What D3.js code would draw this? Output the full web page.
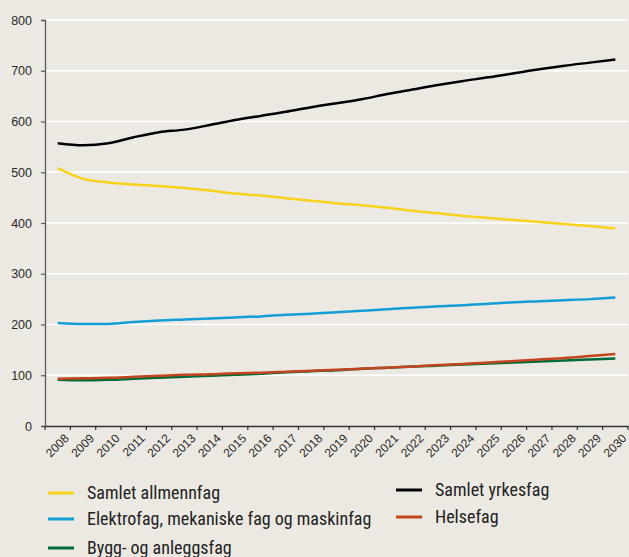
<!DOCTYPE html>
<html><head><meta charset="utf-8">
<script src="https://cdn.jsdelivr.net/npm/d3@7"></script>
<style>
html,body{margin:0;padding:0;background:#ECE9E2;}
svg{display:block;}
</style></head>
<body>
<svg id="c" width="629" height="557"></svg>
<script>
const years = ["2008","2009","2010","2011","2012","2013","2014","2015","2016","2017","2018","2019","2020","2021","2022","2023","2024","2025","2026","2027","2028","2029","2030"];
const yTicks = [0,100,200,300,400,500,600,700,800];
const samletYrkesfag = [557,553,557,569,579,584,593,603,611,619,628,636,644,654,663,672,680,687,695,703,710,716,722];
const samletAllmennfag = [508,487,480,476,473,469,464,458,454,449,444,439,435,430,424,419,414,410,406,402,398,394,389];
const elektrofag = [203,201,201,205,208,210,212,214,216,219,221,224,227,230,233,236,238,241,244,246,248,250,253];
const byggfag = [91,90,91,93,95,97,99,101,103,106,108,110,113,115,117,119,121,123,125,127,129,131,133];
const helsefag = [93,94,95,97,99,101,102,104,105,107,109,111,113,115,117,120,122,125,128,131,134,138,142];

const seriesNames = ["Samlet allmennfag","Samlet yrkesfag","Elektrofag, mekaniske fag og maskinfag","Helsefag","Bygg- og anleggsfag"];
const seriesColors = ["#F8D21C","#000000","#129FD6","#C2451F","#006B3A"];
const seriesData = [samletAllmennfag, samletYrkesfag, elektrofag, helsefag, byggfag];

(function(){
const svg = d3.select("#c");
const mLeft = 45, mRight = 628, mTop = 20, mBottom = 426;
const x = d3.scaleBand().domain(years).range([mLeft, mRight]).padding(0);
const y = d3.scaleLinear().domain([0, 800]).range([mBottom, mTop]);
const narrow = "'Liberation Sans Narrow','Roboto Condensed','Liberation Sans',sans-serif";
const tickFont = "'Liberation Sans',Arial,sans-serif";

// gridlines
svg.append("g").selectAll("line").data(yTicks.filter(d => d > 0)).join("line")
  .attr("x1", mLeft).attr("x2", mRight)
  .attr("y1", d => y(d)).attr("y2", d => y(d))
  .attr("stroke", "#ffffff").attr("stroke-width", 1.6);

// y axis
const yAxis = svg.append("g").attr("transform", `translate(${mLeft},0)`)
  .call(d3.axisLeft(y).tickValues(yTicks).tickSize(4).tickPadding(9));
yAxis.select(".domain").attr("stroke", "#5b5b5b").attr("stroke-width", 1.3);
yAxis.selectAll(".tick line").attr("stroke", "#5b5b5b").attr("stroke-width", 1.2);
yAxis.selectAll("text").attr("font-family", tickFont).attr("font-size", 12.5).attr("fill", "#2a2a2a");

// x axis
const xAxis = svg.append("g").attr("transform", `translate(0,${mBottom})`)
  .call(d3.axisBottom(x).tickSize(0).tickFormat(""));
xAxis.select(".domain").attr("stroke", "#333").attr("stroke-width", 1.5);
const bounds = years.map(d => x(d)).concat([x(years[years.length-1]) + x.bandwidth()]);
svg.append("g").selectAll("line").data(bounds).join("line")
  .attr("x1", d => d).attr("x2", d => d)
  .attr("y1", mBottom).attr("y2", mBottom + 4)
  .attr("stroke", "#333").attr("stroke-width", 1.2);
svg.append("g").selectAll("text").data(years).join("text")
  .attr("transform", d => `translate(${x(d) + x.bandwidth()/2 + 12},${mBottom + 13}) rotate(-45)`)
  .attr("text-anchor", "end")
  .attr("font-family", tickFont).attr("font-size", 12).attr("fill", "#2a2a2a")
  .text(d => d);

// lines
const line = d3.line().x((d, i) => x(years[i]) + x.bandwidth()/2).y(d => y(d)).curve(d3.curveMonotoneX);
const drawOrder = [1, 0, 2, 4, 3];
drawOrder.forEach(k => {
  svg.append("path").datum(seriesData[k])
    .attr("d", line).attr("fill", "none")
    .attr("stroke", seriesColors[k]).attr("stroke-width", 2.5)
    .attr("stroke-linejoin", "round");
});

// legend
const legendPos = [
  {lx: 48, ty: 493}, {lx: 396, ty: 490},
  {lx: 48, ty: 519}, {lx: 396, ty: 517},
  {lx: 48, ty: 548}
];
seriesNames.forEach((name, k) => {
  const p = legendPos[k];
  svg.append("line").attr("x1", p.lx).attr("x2", p.lx + 26)
    .attr("y1", p.ty).attr("y2", p.ty)
    .attr("stroke", seriesColors[k]).attr("stroke-width", 3);
  svg.append("text").attr("x", p.lx + 39).attr("y", p.ty).attr("dy", "0.35em")
    .attr("font-family", narrow).attr("font-size", 18).attr("fill", "#222")
    .text(name);
});
})();
</script>
</body></html>
